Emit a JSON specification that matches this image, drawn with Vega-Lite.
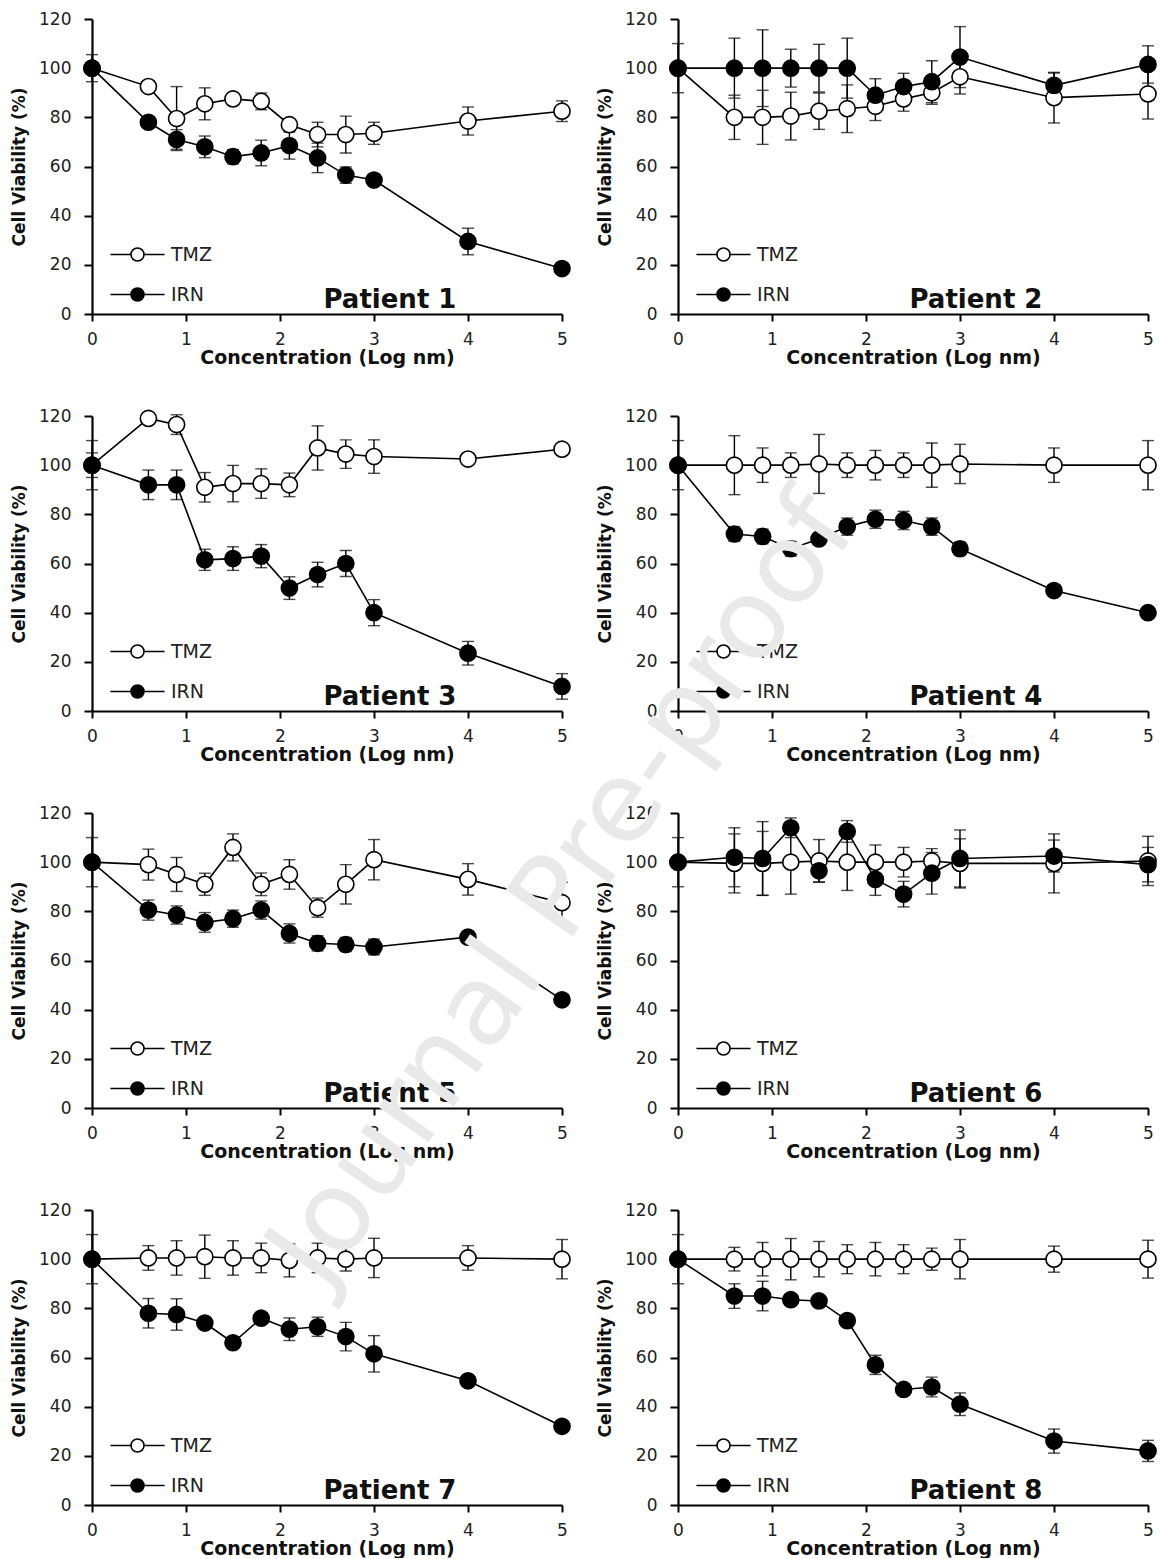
{
  "$schema": "https://vega.github.io/schema/vega-lite/v6.json",
  "background": "white",
  "padding": {"left": 10, "top": 10, "right": 0, "bottom": 0},
  "datasets": {
    "d": [
      {"p":"Patient 1","d":"TMZ","x":0,"v":100,"e":5.5},{"p":"Patient 1","d":"TMZ","x":0.6,"v":92.5,"e":1},{"p":"Patient 1","d":"TMZ","x":0.9,"v":79.5,"e":13},{"p":"Patient 1","d":"TMZ","x":1.2,"v":85.5,"e":6.5},{"p":"Patient 1","d":"TMZ","x":1.5,"v":87.5,"e":1},{"p":"Patient 1","d":"TMZ","x":1.8,"v":86.5,"e":3.4},{"p":"Patient 1","d":"TMZ","x":2.1,"v":77,"e":1},{"p":"Patient 1","d":"TMZ","x":2.4,"v":73,"e":5},{"p":"Patient 1","d":"TMZ","x":2.7,"v":73,"e":7.5},{"p":"Patient 1","d":"TMZ","x":3,"v":73.5,"e":4.5},{"p":"Patient 1","d":"TMZ","x":4,"v":78.5,"e":5.7},{"p":"Patient 1","d":"TMZ","x":5,"v":82.5,"e":4.2},
      {"p":"Patient 1","d":"IRN","x":0,"v":100,"e":1},{"p":"Patient 1","d":"IRN","x":0.6,"v":78,"e":2},{"p":"Patient 1","d":"IRN","x":0.9,"v":71,"e":4},{"p":"Patient 1","d":"IRN","x":1.2,"v":68,"e":4.4},{"p":"Patient 1","d":"IRN","x":1.5,"v":64,"e":2.9},{"p":"Patient 1","d":"IRN","x":1.8,"v":65.5,"e":5.2},{"p":"Patient 1","d":"IRN","x":2.1,"v":68.5,"e":5.5},{"p":"Patient 1","d":"IRN","x":2.4,"v":63.5,"e":6},{"p":"Patient 1","d":"IRN","x":2.7,"v":56.5,"e":3.3},{"p":"Patient 1","d":"IRN","x":3,"v":54.5,"e":2},{"p":"Patient 1","d":"IRN","x":4,"v":29.5,"e":5.4},{"p":"Patient 1","d":"IRN","x":5,"v":18.5,"e":1},
      {"p":"Patient 2","d":"TMZ","x":0,"v":100,"e":10},{"p":"Patient 2","d":"TMZ","x":0.6,"v":80,"e":9},{"p":"Patient 2","d":"TMZ","x":0.9,"v":80,"e":11},{"p":"Patient 2","d":"TMZ","x":1.2,"v":80.5,"e":9.7},{"p":"Patient 2","d":"TMZ","x":1.5,"v":82.5,"e":7.4},{"p":"Patient 2","d":"TMZ","x":1.8,"v":83.5,"e":9.7},{"p":"Patient 2","d":"TMZ","x":2.1,"v":84.5,"e":5.8},{"p":"Patient 2","d":"TMZ","x":2.4,"v":87.5,"e":5},{"p":"Patient 2","d":"TMZ","x":2.7,"v":90,"e":4.7},{"p":"Patient 2","d":"TMZ","x":3,"v":96.5,"e":7},{"p":"Patient 2","d":"TMZ","x":4,"v":88,"e":10.3},{"p":"Patient 2","d":"TMZ","x":5,"v":89.5,"e":10.2},
      {"p":"Patient 2","d":"IRN","x":0,"v":100,"e":1},{"p":"Patient 2","d":"IRN","x":0.6,"v":100,"e":12.2},{"p":"Patient 2","d":"IRN","x":0.9,"v":100,"e":15.6},{"p":"Patient 2","d":"IRN","x":1.2,"v":100,"e":7.7},{"p":"Patient 2","d":"IRN","x":1.5,"v":100,"e":9.7},{"p":"Patient 2","d":"IRN","x":1.8,"v":100,"e":12.2},{"p":"Patient 2","d":"IRN","x":2.1,"v":89,"e":6.7},{"p":"Patient 2","d":"IRN","x":2.4,"v":92.5,"e":5.4},{"p":"Patient 2","d":"IRN","x":2.7,"v":94.5,"e":8.5},{"p":"Patient 2","d":"IRN","x":3,"v":104.5,"e":12.4},{"p":"Patient 2","d":"IRN","x":4,"v":93,"e":5},{"p":"Patient 2","d":"IRN","x":5,"v":101.5,"e":7.6},
      {"p":"Patient 3","d":"TMZ","x":0,"v":100,"e":10},{"p":"Patient 3","d":"TMZ","x":0.6,"v":119,"e":1},{"p":"Patient 3","d":"TMZ","x":0.9,"v":116.5,"e":4},{"p":"Patient 3","d":"TMZ","x":1.2,"v":91,"e":6},{"p":"Patient 3","d":"TMZ","x":1.5,"v":92.5,"e":7.4},{"p":"Patient 3","d":"TMZ","x":1.8,"v":92.5,"e":6},{"p":"Patient 3","d":"TMZ","x":2.1,"v":92,"e":4.8},{"p":"Patient 3","d":"TMZ","x":2.4,"v":107,"e":9},{"p":"Patient 3","d":"TMZ","x":2.7,"v":104.5,"e":5.8},{"p":"Patient 3","d":"TMZ","x":3,"v":103.5,"e":6.8},{"p":"Patient 3","d":"TMZ","x":4,"v":102.5,"e":1},{"p":"Patient 3","d":"TMZ","x":5,"v":106.5,"e":1},
      {"p":"Patient 3","d":"IRN","x":0,"v":100,"e":5},{"p":"Patient 3","d":"IRN","x":0.6,"v":92,"e":6},{"p":"Patient 3","d":"IRN","x":0.9,"v":92,"e":6},{"p":"Patient 3","d":"IRN","x":1.2,"v":61.5,"e":4.3},{"p":"Patient 3","d":"IRN","x":1.5,"v":62,"e":4.8},{"p":"Patient 3","d":"IRN","x":1.8,"v":63,"e":4.7},{"p":"Patient 3","d":"IRN","x":2.1,"v":50,"e":4.6},{"p":"Patient 3","d":"IRN","x":2.4,"v":55.5,"e":5},{"p":"Patient 3","d":"IRN","x":2.7,"v":60,"e":5.3},{"p":"Patient 3","d":"IRN","x":3,"v":40,"e":5.3},{"p":"Patient 3","d":"IRN","x":4,"v":23.5,"e":4.8},{"p":"Patient 3","d":"IRN","x":5,"v":10,"e":5.2},
      {"p":"Patient 4","d":"TMZ","x":0,"v":100,"e":10},{"p":"Patient 4","d":"TMZ","x":0.6,"v":100,"e":12},{"p":"Patient 4","d":"TMZ","x":0.9,"v":100,"e":7},{"p":"Patient 4","d":"TMZ","x":1.2,"v":100,"e":5},{"p":"Patient 4","d":"TMZ","x":1.5,"v":100.5,"e":12},{"p":"Patient 4","d":"TMZ","x":1.8,"v":100,"e":5},{"p":"Patient 4","d":"TMZ","x":2.1,"v":100,"e":6},{"p":"Patient 4","d":"TMZ","x":2.4,"v":100,"e":5},{"p":"Patient 4","d":"TMZ","x":2.7,"v":100,"e":9},{"p":"Patient 4","d":"TMZ","x":3,"v":100.5,"e":8},{"p":"Patient 4","d":"TMZ","x":4,"v":100,"e":7},{"p":"Patient 4","d":"TMZ","x":5,"v":100,"e":10},
      {"p":"Patient 4","d":"IRN","x":0,"v":100,"e":1},{"p":"Patient 4","d":"IRN","x":0.6,"v":72,"e":3},{"p":"Patient 4","d":"IRN","x":0.9,"v":71,"e":3},{"p":"Patient 4","d":"IRN","x":1.2,"v":66,"e":3},{"p":"Patient 4","d":"IRN","x":1.5,"v":70,"e":2},{"p":"Patient 4","d":"IRN","x":1.8,"v":75,"e":3.5},{"p":"Patient 4","d":"IRN","x":2.1,"v":78,"e":3.7},{"p":"Patient 4","d":"IRN","x":2.4,"v":77.5,"e":3.7},{"p":"Patient 4","d":"IRN","x":2.7,"v":75,"e":3.5},{"p":"Patient 4","d":"IRN","x":3,"v":66,"e":2.7},{"p":"Patient 4","d":"IRN","x":4,"v":49,"e":1},{"p":"Patient 4","d":"IRN","x":5,"v":40,"e":1},
      {"p":"Patient 5","d":"TMZ","x":0,"v":100,"e":10},{"p":"Patient 5","d":"TMZ","x":0.6,"v":99,"e":6.3},{"p":"Patient 5","d":"TMZ","x":0.9,"v":95,"e":6.9},{"p":"Patient 5","d":"TMZ","x":1.2,"v":91,"e":4.5},{"p":"Patient 5","d":"TMZ","x":1.5,"v":106,"e":5.5},{"p":"Patient 5","d":"TMZ","x":1.8,"v":91,"e":4.6},{"p":"Patient 5","d":"TMZ","x":2.1,"v":95,"e":6},{"p":"Patient 5","d":"TMZ","x":2.4,"v":81.5,"e":3.9},{"p":"Patient 5","d":"TMZ","x":2.7,"v":91,"e":8},{"p":"Patient 5","d":"TMZ","x":3,"v":101,"e":8.2},{"p":"Patient 5","d":"TMZ","x":4,"v":93,"e":6.4},{"p":"Patient 5","d":"TMZ","x":5,"v":83.5,"e":8.3},
      {"p":"Patient 5","d":"IRN","x":0,"v":100,"e":1},{"p":"Patient 5","d":"IRN","x":0.6,"v":80.5,"e":4.1},{"p":"Patient 5","d":"IRN","x":0.9,"v":78.5,"e":3.7},{"p":"Patient 5","d":"IRN","x":1.2,"v":75.5,"e":4},{"p":"Patient 5","d":"IRN","x":1.5,"v":77,"e":3.5},{"p":"Patient 5","d":"IRN","x":1.8,"v":80.5,"e":3.7},{"p":"Patient 5","d":"IRN","x":2.1,"v":71,"e":3.9},{"p":"Patient 5","d":"IRN","x":2.4,"v":67,"e":3.1},{"p":"Patient 5","d":"IRN","x":2.7,"v":66.5,"e":2.9},{"p":"Patient 5","d":"IRN","x":3,"v":65.5,"e":3.2},{"p":"Patient 5","d":"IRN","x":4,"v":69.5,"e":2.5},{"p":"Patient 5","d":"IRN","x":5,"v":44,"e":1},
      {"p":"Patient 6","d":"TMZ","x":0,"v":100,"e":10},{"p":"Patient 6","d":"TMZ","x":0.6,"v":99.5,"e":12},{"p":"Patient 6","d":"TMZ","x":0.9,"v":99.5,"e":13},{"p":"Patient 6","d":"TMZ","x":1.2,"v":100,"e":13},{"p":"Patient 6","d":"TMZ","x":1.5,"v":100.5,"e":8.7},{"p":"Patient 6","d":"TMZ","x":1.8,"v":100,"e":11.5},{"p":"Patient 6","d":"TMZ","x":2.1,"v":100,"e":7},{"p":"Patient 6","d":"TMZ","x":2.4,"v":100,"e":6},{"p":"Patient 6","d":"TMZ","x":2.7,"v":100.5,"e":5},{"p":"Patient 6","d":"TMZ","x":3,"v":99.5,"e":10},{"p":"Patient 6","d":"TMZ","x":4,"v":99.5,"e":12},{"p":"Patient 6","d":"TMZ","x":5,"v":100.5,"e":10},
      {"p":"Patient 6","d":"IRN","x":0,"v":100,"e":1},{"p":"Patient 6","d":"IRN","x":0.6,"v":102,"e":12},{"p":"Patient 6","d":"IRN","x":0.9,"v":101.5,"e":15},{"p":"Patient 6","d":"IRN","x":1.2,"v":114,"e":4},{"p":"Patient 6","d":"IRN","x":1.5,"v":96.5,"e":4.5},{"p":"Patient 6","d":"IRN","x":1.8,"v":112.5,"e":4.4},{"p":"Patient 6","d":"IRN","x":2.1,"v":93,"e":6.5},{"p":"Patient 6","d":"IRN","x":2.4,"v":87,"e":5.2},{"p":"Patient 6","d":"IRN","x":2.7,"v":95.5,"e":8.5},{"p":"Patient 6","d":"IRN","x":3,"v":101.5,"e":11.6},{"p":"Patient 6","d":"IRN","x":4,"v":102.5,"e":6.5},{"p":"Patient 6","d":"IRN","x":5,"v":99,"e":7},
      {"p":"Patient 7","d":"TMZ","x":0,"v":100,"e":10},{"p":"Patient 7","d":"TMZ","x":0.6,"v":100.5,"e":5},{"p":"Patient 7","d":"TMZ","x":0.9,"v":100.5,"e":7},{"p":"Patient 7","d":"TMZ","x":1.2,"v":101,"e":8.8},{"p":"Patient 7","d":"TMZ","x":1.5,"v":100.5,"e":7},{"p":"Patient 7","d":"TMZ","x":1.8,"v":100.5,"e":6},{"p":"Patient 7","d":"TMZ","x":2.1,"v":99.5,"e":6.7},{"p":"Patient 7","d":"TMZ","x":2.4,"v":100.5,"e":6},{"p":"Patient 7","d":"TMZ","x":2.7,"v":100,"e":4.8},{"p":"Patient 7","d":"TMZ","x":3,"v":100.5,"e":8},{"p":"Patient 7","d":"TMZ","x":4,"v":100.5,"e":5},{"p":"Patient 7","d":"TMZ","x":5,"v":100,"e":8},
      {"p":"Patient 7","d":"IRN","x":0,"v":100,"e":1},{"p":"Patient 7","d":"IRN","x":0.6,"v":78,"e":6},{"p":"Patient 7","d":"IRN","x":0.9,"v":77.5,"e":6.4},{"p":"Patient 7","d":"IRN","x":1.2,"v":74,"e":2},{"p":"Patient 7","d":"IRN","x":1.5,"v":66,"e":1},{"p":"Patient 7","d":"IRN","x":1.8,"v":76,"e":2},{"p":"Patient 7","d":"IRN","x":2.1,"v":71.5,"e":4.6},{"p":"Patient 7","d":"IRN","x":2.4,"v":72.5,"e":3.9},{"p":"Patient 7","d":"IRN","x":2.7,"v":68.5,"e":5.8},{"p":"Patient 7","d":"IRN","x":3,"v":61.5,"e":7.4},{"p":"Patient 7","d":"IRN","x":4,"v":50.5,"e":2},{"p":"Patient 7","d":"IRN","x":5,"v":32,"e":1},
      {"p":"Patient 8","d":"TMZ","x":0,"v":100,"e":10},{"p":"Patient 8","d":"TMZ","x":0.6,"v":100,"e":4.8},{"p":"Patient 8","d":"TMZ","x":0.9,"v":100,"e":6.8},{"p":"Patient 8","d":"TMZ","x":1.2,"v":100,"e":8.4},{"p":"Patient 8","d":"TMZ","x":1.5,"v":100,"e":7.2},{"p":"Patient 8","d":"TMZ","x":1.8,"v":100,"e":5.9},{"p":"Patient 8","d":"TMZ","x":2.1,"v":100,"e":6.8},{"p":"Patient 8","d":"TMZ","x":2.4,"v":100,"e":5.9},{"p":"Patient 8","d":"TMZ","x":2.7,"v":100,"e":4.5},{"p":"Patient 8","d":"TMZ","x":3,"v":100,"e":8},{"p":"Patient 8","d":"TMZ","x":4,"v":100,"e":5.3},{"p":"Patient 8","d":"TMZ","x":5,"v":100,"e":7.7},
      {"p":"Patient 8","d":"IRN","x":0,"v":100,"e":1},{"p":"Patient 8","d":"IRN","x":0.6,"v":85,"e":5},{"p":"Patient 8","d":"IRN","x":0.9,"v":85,"e":6},{"p":"Patient 8","d":"IRN","x":1.2,"v":83.5,"e":2},{"p":"Patient 8","d":"IRN","x":1.5,"v":83,"e":2},{"p":"Patient 8","d":"IRN","x":1.8,"v":75,"e":2},{"p":"Patient 8","d":"IRN","x":2.1,"v":57,"e":3.9},{"p":"Patient 8","d":"IRN","x":2.4,"v":47,"e":2},{"p":"Patient 8","d":"IRN","x":2.7,"v":48,"e":4},{"p":"Patient 8","d":"IRN","x":3,"v":41,"e":4.6},{"p":"Patient 8","d":"IRN","x":4,"v":26,"e":4.9},{"p":"Patient 8","d":"IRN","x":5,"v":22,"e":4.3}
    ]
  },
  "data": {"name": "d"},
  "columns": 2,
  "spacing": {"row": 102, "column": 116},
  "bounds": "flush",
  "resolve": {"scale": {"fill": "independent"}, "legend": {"fill": "independent"}},
  "concat": [
    {"width":470,"height":295,"transform":[{"filter":"datum.p=='Patient 1'"}],
     "encoding":{"x":{"field":"x","type":"quantitative","title":"Concentration (Log nm)","scale":{"domain":[0,5],"nice":false,"zero":false},"axis":{"values":[0,1,2,3,4,5]}},"y":{"field":"v","type":"quantitative","title":"Cell Viability (%)","scale":{"domain":[0,120],"nice":false},"axis":{"values":[0,20,40,60,80,100,120]}}},
     "layer":[
      {"mark":{"type":"line","color":"black","strokeWidth":1.6},"encoding":{"detail":{"field":"d"}}},
      {"mark":{"type":"errorbar","color":"black","thickness":1.4,"ticks":{"size":12,"thickness":1.4,"color":"black"}},"encoding":{"yError":{"field":"e"}}},
      {"mark":{"type":"point","shape":"circle","filled":true,"size":260,"stroke":"black","strokeWidth":1.6,"opacity":1},"encoding":{"fill":{"field":"d","type":"nominal","scale":{"domain":["TMZ","IRN"],"range":["white","black"]},"legend":{"title":null}}}},
      {"transform":[{"filter":"datum.x==0 && datum.d=='TMZ'"}],"mark":{"type":"text","font":"DejaVu Sans","fontWeight":"bold","fontSize":26,"fill":"#111","align":"center","baseline":"alphabetic"},"encoding":{"x":{"datum":3.17,"type":"quantitative"},"y":{"datum":2.3,"type":"quantitative"},"text":{"field":"p","type":"nominal"}}}
     ]},
    {"width":470,"height":295,"transform":[{"filter":"datum.p=='Patient 2'"}],
     "encoding":{"x":{"field":"x","type":"quantitative","title":"Concentration (Log nm)","scale":{"domain":[0,5],"nice":false,"zero":false},"axis":{"values":[0,1,2,3,4,5]}},"y":{"field":"v","type":"quantitative","title":"Cell Viability (%)","scale":{"domain":[0,120],"nice":false},"axis":{"values":[0,20,40,60,80,100,120]}}},
     "layer":[
      {"mark":{"type":"line","color":"black","strokeWidth":1.6},"encoding":{"detail":{"field":"d"}}},
      {"mark":{"type":"errorbar","color":"black","thickness":1.4,"ticks":{"size":12,"thickness":1.4,"color":"black"}},"encoding":{"yError":{"field":"e"}}},
      {"mark":{"type":"point","shape":"circle","filled":true,"size":260,"stroke":"black","strokeWidth":1.6,"opacity":1},"encoding":{"fill":{"field":"d","type":"nominal","scale":{"domain":["TMZ","IRN"],"range":["white","black"]},"legend":{"title":null}}}},
      {"transform":[{"filter":"datum.x==0 && datum.d=='TMZ'"}],"mark":{"type":"text","font":"DejaVu Sans","fontWeight":"bold","fontSize":26,"fill":"#111","align":"center","baseline":"alphabetic"},"encoding":{"x":{"datum":3.17,"type":"quantitative"},"y":{"datum":2.3,"type":"quantitative"},"text":{"field":"p","type":"nominal"}}}
     ]},
    {"width":470,"height":295,"transform":[{"filter":"datum.p=='Patient 3'"}],
     "encoding":{"x":{"field":"x","type":"quantitative","title":"Concentration (Log nm)","scale":{"domain":[0,5],"nice":false,"zero":false},"axis":{"values":[0,1,2,3,4,5]}},"y":{"field":"v","type":"quantitative","title":"Cell Viability (%)","scale":{"domain":[0,120],"nice":false},"axis":{"values":[0,20,40,60,80,100,120]}}},
     "layer":[
      {"mark":{"type":"line","color":"black","strokeWidth":1.6},"encoding":{"detail":{"field":"d"}}},
      {"mark":{"type":"errorbar","color":"black","thickness":1.4,"ticks":{"size":12,"thickness":1.4,"color":"black"}},"encoding":{"yError":{"field":"e"}}},
      {"mark":{"type":"point","shape":"circle","filled":true,"size":260,"stroke":"black","strokeWidth":1.6,"opacity":1},"encoding":{"fill":{"field":"d","type":"nominal","scale":{"domain":["TMZ","IRN"],"range":["white","black"]},"legend":{"title":null}}}},
      {"transform":[{"filter":"datum.x==0 && datum.d=='TMZ'"}],"mark":{"type":"text","font":"DejaVu Sans","fontWeight":"bold","fontSize":26,"fill":"#111","align":"center","baseline":"alphabetic"},"encoding":{"x":{"datum":3.17,"type":"quantitative"},"y":{"datum":2.3,"type":"quantitative"},"text":{"field":"p","type":"nominal"}}}
     ]},
    {"width":470,"height":295,"transform":[{"filter":"datum.p=='Patient 4'"}],
     "encoding":{"x":{"field":"x","type":"quantitative","title":"Concentration (Log nm)","scale":{"domain":[0,5],"nice":false,"zero":false},"axis":{"values":[0,1,2,3,4,5]}},"y":{"field":"v","type":"quantitative","title":"Cell Viability (%)","scale":{"domain":[0,120],"nice":false},"axis":{"values":[0,20,40,60,80,100,120]}}},
     "layer":[
      {"mark":{"type":"line","color":"black","strokeWidth":1.6},"encoding":{"detail":{"field":"d"}}},
      {"mark":{"type":"errorbar","color":"black","thickness":1.4,"ticks":{"size":12,"thickness":1.4,"color":"black"}},"encoding":{"yError":{"field":"e"}}},
      {"mark":{"type":"point","shape":"circle","filled":true,"size":260,"stroke":"black","strokeWidth":1.6,"opacity":1},"encoding":{"fill":{"field":"d","type":"nominal","scale":{"domain":["TMZ","IRN"],"range":["white","black"]},"legend":{"title":null}}}},
      {"transform":[{"filter":"datum.x==0 && datum.d=='TMZ'"}],"mark":{"type":"text","font":"DejaVu Sans","fontWeight":"bold","fontSize":26,"fill":"#111","align":"center","baseline":"alphabetic"},"encoding":{"x":{"datum":3.17,"type":"quantitative"},"y":{"datum":2.3,"type":"quantitative"},"text":{"field":"p","type":"nominal"}}}
     ]},
    {"width":470,"height":295,"transform":[{"filter":"datum.p=='Patient 5'"}],
     "encoding":{"x":{"field":"x","type":"quantitative","title":"Concentration (Log nm)","scale":{"domain":[0,5],"nice":false,"zero":false},"axis":{"values":[0,1,2,3,4,5]}},"y":{"field":"v","type":"quantitative","title":"Cell Viability (%)","scale":{"domain":[0,120],"nice":false},"axis":{"values":[0,20,40,60,80,100,120]}}},
     "layer":[
      {"mark":{"type":"line","color":"black","strokeWidth":1.6},"encoding":{"detail":{"field":"d"}}},
      {"mark":{"type":"errorbar","color":"black","thickness":1.4,"ticks":{"size":12,"thickness":1.4,"color":"black"}},"encoding":{"yError":{"field":"e"}}},
      {"mark":{"type":"point","shape":"circle","filled":true,"size":260,"stroke":"black","strokeWidth":1.6,"opacity":1},"encoding":{"fill":{"field":"d","type":"nominal","scale":{"domain":["TMZ","IRN"],"range":["white","black"]},"legend":{"title":null}}}},
      {"transform":[{"filter":"datum.x==0 && datum.d=='TMZ'"}],"mark":{"type":"text","font":"DejaVu Sans","fontWeight":"bold","fontSize":26,"fill":"#111","align":"center","baseline":"alphabetic"},"encoding":{"x":{"datum":3.17,"type":"quantitative"},"y":{"datum":2.3,"type":"quantitative"},"text":{"field":"p","type":"nominal"}}}
     ]},
    {"width":470,"height":295,"transform":[{"filter":"datum.p=='Patient 6'"}],
     "encoding":{"x":{"field":"x","type":"quantitative","title":"Concentration (Log nm)","scale":{"domain":[0,5],"nice":false,"zero":false},"axis":{"values":[0,1,2,3,4,5]}},"y":{"field":"v","type":"quantitative","title":"Cell Viability (%)","scale":{"domain":[0,120],"nice":false},"axis":{"values":[0,20,40,60,80,100,120]}}},
     "layer":[
      {"mark":{"type":"line","color":"black","strokeWidth":1.6},"encoding":{"detail":{"field":"d"}}},
      {"mark":{"type":"errorbar","color":"black","thickness":1.4,"ticks":{"size":12,"thickness":1.4,"color":"black"}},"encoding":{"yError":{"field":"e"}}},
      {"mark":{"type":"point","shape":"circle","filled":true,"size":260,"stroke":"black","strokeWidth":1.6,"opacity":1},"encoding":{"fill":{"field":"d","type":"nominal","scale":{"domain":["TMZ","IRN"],"range":["white","black"]},"legend":{"title":null}}}},
      {"transform":[{"filter":"datum.x==0 && datum.d=='TMZ'"}],"mark":{"type":"text","font":"DejaVu Sans","fontWeight":"bold","fontSize":26,"fill":"#111","align":"center","baseline":"alphabetic"},"encoding":{"x":{"datum":3.17,"type":"quantitative"},"y":{"datum":2.3,"type":"quantitative"},"text":{"field":"p","type":"nominal"}}}
     ]},
    {"width":470,"height":295,"transform":[{"filter":"datum.p=='Patient 7'"}],
     "encoding":{"x":{"field":"x","type":"quantitative","title":"Concentration (Log nm)","scale":{"domain":[0,5],"nice":false,"zero":false},"axis":{"values":[0,1,2,3,4,5]}},"y":{"field":"v","type":"quantitative","title":"Cell Viability (%)","scale":{"domain":[0,120],"nice":false},"axis":{"values":[0,20,40,60,80,100,120]}}},
     "layer":[
      {"mark":{"type":"line","color":"black","strokeWidth":1.6},"encoding":{"detail":{"field":"d"}}},
      {"mark":{"type":"errorbar","color":"black","thickness":1.4,"ticks":{"size":12,"thickness":1.4,"color":"black"}},"encoding":{"yError":{"field":"e"}}},
      {"mark":{"type":"point","shape":"circle","filled":true,"size":260,"stroke":"black","strokeWidth":1.6,"opacity":1},"encoding":{"fill":{"field":"d","type":"nominal","scale":{"domain":["TMZ","IRN"],"range":["white","black"]},"legend":{"title":null}}}},
      {"transform":[{"filter":"datum.x==0 && datum.d=='TMZ'"}],"mark":{"type":"text","font":"DejaVu Sans","fontWeight":"bold","fontSize":26,"fill":"#111","align":"center","baseline":"alphabetic"},"encoding":{"x":{"datum":3.17,"type":"quantitative"},"y":{"datum":2.3,"type":"quantitative"},"text":{"field":"p","type":"nominal"}}}
     ]},
    {"width":470,"height":295,"transform":[{"filter":"datum.p=='Patient 8'"}],
     "encoding":{"x":{"field":"x","type":"quantitative","title":"Concentration (Log nm)","scale":{"domain":[0,5],"nice":false,"zero":false},"axis":{"values":[0,1,2,3,4,5]}},"y":{"field":"v","type":"quantitative","title":"Cell Viability (%)","scale":{"domain":[0,120],"nice":false},"axis":{"values":[0,20,40,60,80,100,120]}}},
     "layer":[
      {"mark":{"type":"line","color":"black","strokeWidth":1.6},"encoding":{"detail":{"field":"d"}}},
      {"mark":{"type":"errorbar","color":"black","thickness":1.4,"ticks":{"size":12,"thickness":1.4,"color":"black"}},"encoding":{"yError":{"field":"e"}}},
      {"mark":{"type":"point","shape":"circle","filled":true,"size":260,"stroke":"black","strokeWidth":1.6,"opacity":1},"encoding":{"fill":{"field":"d","type":"nominal","scale":{"domain":["TMZ","IRN"],"range":["white","black"]},"legend":{"title":null}}}},
      {"transform":[{"filter":"datum.x==0 && datum.d=='TMZ'"}],"mark":{"type":"text","font":"DejaVu Sans","fontWeight":"bold","fontSize":26,"fill":"#111","align":"center","baseline":"alphabetic"},"encoding":{"x":{"datum":3.17,"type":"quantitative"},"y":{"datum":2.3,"type":"quantitative"},"text":{"field":"p","type":"nominal"}}},
      {"transform":[{"filter":"datum.x==0 && datum.d=='IRN'"}],"mark":{"type":"text","font":"DejaVu Sans","fontSize":112,"fill":"#e9e9e9","angle":305,"align":"center","baseline":"middle","clip":false},"encoding":{"x":{"datum":-1.22,"type":"quantitative"},"y":{"datum":250,"type":"quantitative"},"text":{"value":"Journal Pre-proof"}}}
     ]}
  ],
  "config": {
    "view": {"stroke": null},
    "font": "DejaVu Sans",
    "axis": {"grid": false, "domainColor": "black", "domainWidth": 2.2, "tickColor": "black", "tickWidth": 2, "labelFont": "DejaVu Sans", "labelColor": "#222", "titleFont": "DejaVu Sans", "titleFontWeight": "bold", "titleColor": "#111", "labelFlush": false},
    "axisX": {"tickSize": 7, "labelPadding": 10, "labelFontSize": 17, "titleFontSize": 19, "titlePadding": 1},
    "axisY": {"tickSize": 8, "labelPadding": 13, "labelFontSize": 17, "titleFontSize": 17, "titlePadding": 10},
    "legend": {"orient": "none", "legendX": 36, "legendY": 226, "padding": 0, "symbolType": "M-4.15,0H-1M1,0H4.15M-1,0A1,1,0,1,0,1,0A1,1,0,1,0,-1,0Z", "symbolSize": 170, "symbolStrokeColor": "black", "symbolStrokeWidth": 1.6, "labelFont": "DejaVu Sans", "labelFontSize": 19, "labelColor": "#222", "labelOffset": 24, "rowPadding": 19}
  }
}
